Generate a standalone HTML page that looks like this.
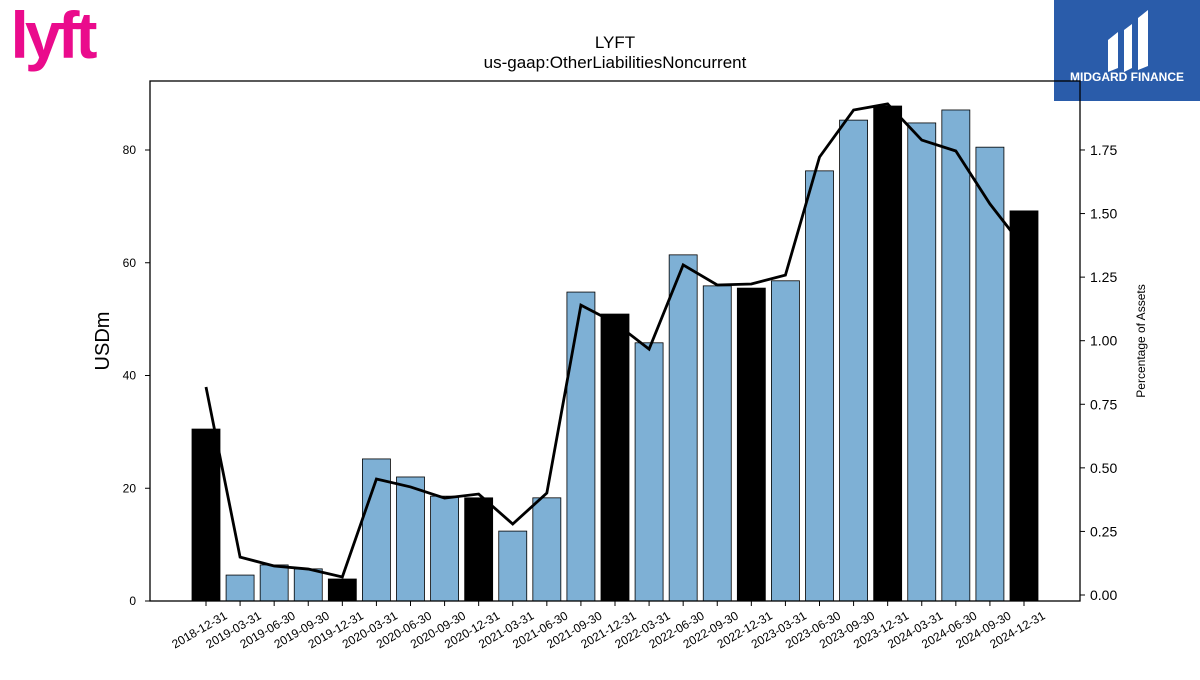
<!DOCTYPE html>
<html><head><meta charset="utf-8"><style>
body{margin:0;background:#fff;width:1200px;height:675px;overflow:hidden;font-family:"Liberation Sans","DejaVu Sans",sans-serif}
</style></head><body>
<svg id="c" width="1200" height="675" xmlns="http://www.w3.org/2000/svg">
<text x="52" y="58" font-size="66" font-weight="bold" fill="#ea0b8c" text-anchor="middle" font-family="Liberation Sans, sans-serif" letter-spacing="-4">lyft</text>
<g>
<rect x="1054" y="0" width="146" height="101" fill="#2a5caa"/>
<path d="M1108 40 l10 -8 v36 l-10 4z M1124 30 l8 -6 v44 l-8 4z M1138 18 l10 -8 v56 l-10 4z" fill="#fff"/>
<text x="1127" y="81" font-size="12" font-weight="bold" fill="#fff" text-anchor="middle">MIDGARD FINANCE</text>
</g>
<text x="615" y="48" font-size="17" text-anchor="middle">LYFT</text>
<text x="615" y="68" font-size="17" text-anchor="middle">us-gaap:OtherLiabilitiesNoncurrent</text>
<g id="plot"></g>
<rect x="150" y="81" width="930" height="520" fill="none" stroke="#000" stroke-width="1.3"/>
<text transform="translate(109,341) rotate(-90)" font-size="20" text-anchor="middle">USDm</text>
<text transform="translate(1145,341) rotate(-90)" font-size="12" text-anchor="middle">Percentage of Assets</text>
</svg>
<script>
const categories=["2018-12-31","2019-03-31","2019-06-30","2019-09-30","2019-12-31","2020-03-31","2020-06-30","2020-09-30","2020-12-31","2021-03-31","2021-06-30","2021-09-30","2021-12-31","2022-03-31","2022-06-30","2022-09-30","2022-12-31","2023-03-31","2023-06-30","2023-09-30","2023-12-31","2024-03-31","2024-06-30","2024-09-30","2024-12-31"];
const values=[30.5,4.6,6.4,5.7,3.9,25.2,22.0,18.6,18.3,12.4,18.3,54.8,50.9,45.8,61.4,55.9,55.5,56.8,76.3,85.3,87.8,84.8,87.1,80.5,69.2];
const pct=[0.818,0.149,0.114,0.102,0.071,0.456,0.425,0.381,0.397,0.279,0.401,1.140,1.070,0.967,1.298,1.219,1.223,1.258,1.722,1.907,1.931,1.789,1.746,1.538,1.365];
const leftTicks=[0,20,40,60,80];
const rightTicks=["0.00","0.25","0.50","0.75","1.00","1.25","1.50","1.75"];
const NS="http://www.w3.org/2000/svg";
const g=document.getElementById('plot');
const xs=i=>206+i*(1024-206)/(categories.length-1);
const yL=v=>601-v*451/80;
const yR=v=>595-v*254.3;
function mk(t,a){const e=document.createElementNS(NS,t);for(const k in a)e.setAttribute(k,a[k]);g.appendChild(e);return e;}
values.forEach((v,i)=>{
 const dark=categories[i].endsWith("12-31");
 const r=mk('rect',{x:xs(i)-14,y:yL(v),width:28,height:601-yL(v),fill:dark?'#000':'#7eb0d5',stroke:'#000','stroke-width':0.8});
 
 
 mk('line',{x1:xs(i),x2:xs(i),y1:601,y2:606,stroke:'#000'});
 const t=mk('text',{x:xs(i)+22,y:618,'font-size':12,'text-anchor':'end',transform:`rotate(-30 ${xs(i)+22} 618)`});
 t.textContent=categories[i];
 
 
});
const pl=mk('polyline',{points:pct.map((p,i)=>xs(i)+','+yR(p)).join(' '),fill:'none',stroke:'#000','stroke-width':2.8});


leftTicks.forEach(v=>{
 mk('line',{x1:145,x2:150,y1:yL(v),y2:yL(v),stroke:'#000'});
 const t=mk('text',{x:136,y:yL(v)+4,'font-size':12,'text-anchor':'end'});t.textContent=v;
 
 
});
rightTicks.forEach(s=>{
 const v=parseFloat(s);
 mk('line',{x1:1080,x2:1085,y1:yR(v),y2:yR(v),stroke:'#000'});
 const t=mk('text',{x:1090,y:yR(v)+5,'font-size':14});t.textContent=s;
 
 
});
</script>
</body></html>
